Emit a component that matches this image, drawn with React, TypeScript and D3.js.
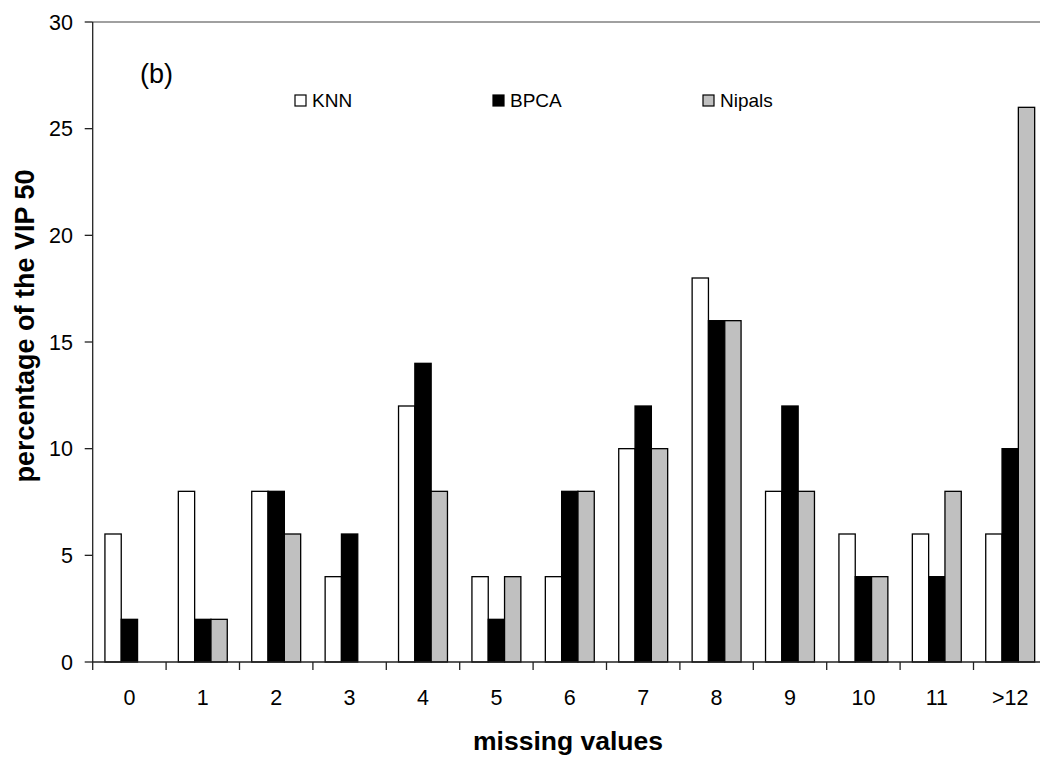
import React from "react";
import * as d3 from "d3";

const categories = ["0", "1", "2", "3", "4", "5", "6", "7", "8", "9", "10", "11", ">12"];
const seriesNames = ["KNN", "BPCA", "Nipals"];
const knn = [6, 8, 8, 4, 12, 4, 4, 10, 18, 8, 6, 6, 6];
const bpca = [2, 2, 8, 6, 14, 2, 8, 12, 16, 12, 4, 4, 10];
const nipals = [0, 2, 6, 0, 8, 4, 8, 10, 16, 8, 4, 8, 26];
const yTicks = [0, 5, 10, 15, 20, 25, 30];
const fills = ["#ffffff", "#000000", "#c0c0c0"];

const W = 1040;
const H = 759;
const left = 92.7;
const top = 22;
const bottom = 662;
const catW = 73.4;
const right = left + catW * categories.length;

export default function App() {
  const series = [knn, bpca, nipals];
  const x = d3.scaleBand<string>().domain(categories).range([left, right]).paddingInner(0).paddingOuter(0);
  const y = d3.scaleLinear().domain([0, 30]).range([bottom, top]);
  // three bars per category with a 150% gap between groups
  const barW = x.bandwidth() / 4.5;
  const groupOffset = barW * 0.75;
  const font = "Liberation Sans, Arial, sans-serif";

  return (
    <svg width={W} height={H} style={{ position: "absolute", left: 0, top: 0, background: "#fff" }}>
      {/* plot frame top */}
      <line x1={left} x2={right} y1={top} y2={top} stroke="#808080" strokeWidth={1.3} />

      {/* bars */}
      {categories.map((c, i) =>
        series.map((s, k) => {
          const v = s[i];
          if (v <= 0) return null;
          const bx = (x(c) as number) + groupOffset + k * barW;
          return (
            <rect
              key={c + "-" + k}
              x={bx}
              y={y(v)}
              width={barW}
              height={y(0) - y(v)}
              fill={fills[k]}
              stroke="#000"
              strokeWidth={1.3}
            />
          );
        })
      )}

      {/* y axis */}
      <line x1={left} x2={left} y1={top} y2={bottom} stroke="#222" strokeWidth={1.3} />
      {yTicks.map((t) => (
        <g key={t}>
          <line x1={left - 8} x2={left} y1={y(t)} y2={y(t)} stroke="#222" strokeWidth={1.3} />
          <text x={73} y={y(t) + 7.5} textAnchor="end" fontFamily={font} fontSize={21.5} fill="#000">
            {t}
          </text>
        </g>
      ))}

      {/* x axis */}
      <line x1={left} x2={right} y1={bottom} y2={bottom} stroke="#222" strokeWidth={1.3} />
      {categories.map((c) => (
        <g key={c}>
          <line x1={x(c) as number} x2={x(c) as number} y1={bottom} y2={bottom + 8} stroke="#222" strokeWidth={1.3} />
          <text
            x={(x(c) as number) + x.bandwidth() / 2}
            y={704.5}
            textAnchor="middle"
            fontFamily={font}
            fontSize={21.5}
            fill="#000"
          >
            {c}
          </text>
        </g>
      ))}

      {/* axis titles */}
      <text x={568} y={750} textAnchor="middle" fontFamily={font} fontSize={26.5} fontWeight="bold" fill="#000">
        missing values
      </text>
      <text
        transform={`translate(34,326) rotate(-90)`}
        textAnchor="middle"
        fontFamily={font}
        fontSize={27}
        fontWeight="bold"
        fill="#000"
      >
        percentage of the VIP 50
      </text>

      {/* panel label */}
      <text x={140} y={83} fontFamily={font} fontSize={27} fill="#000">
        (b)
      </text>

      {/* legend */}
      {seriesNames.map((n, k) => {
        const lx = [295, 493, 703][k];
        return (
          <g key={n}>
            <rect x={lx} y={95} width={11} height={11} fill={fills[k]} stroke="#000" strokeWidth={1.2} />
            <text x={lx + 17} y={106.7} fontFamily={font} fontSize={19} fill="#000">
              {n}
            </text>
          </g>
        );
      })}
    </svg>
  );
}
